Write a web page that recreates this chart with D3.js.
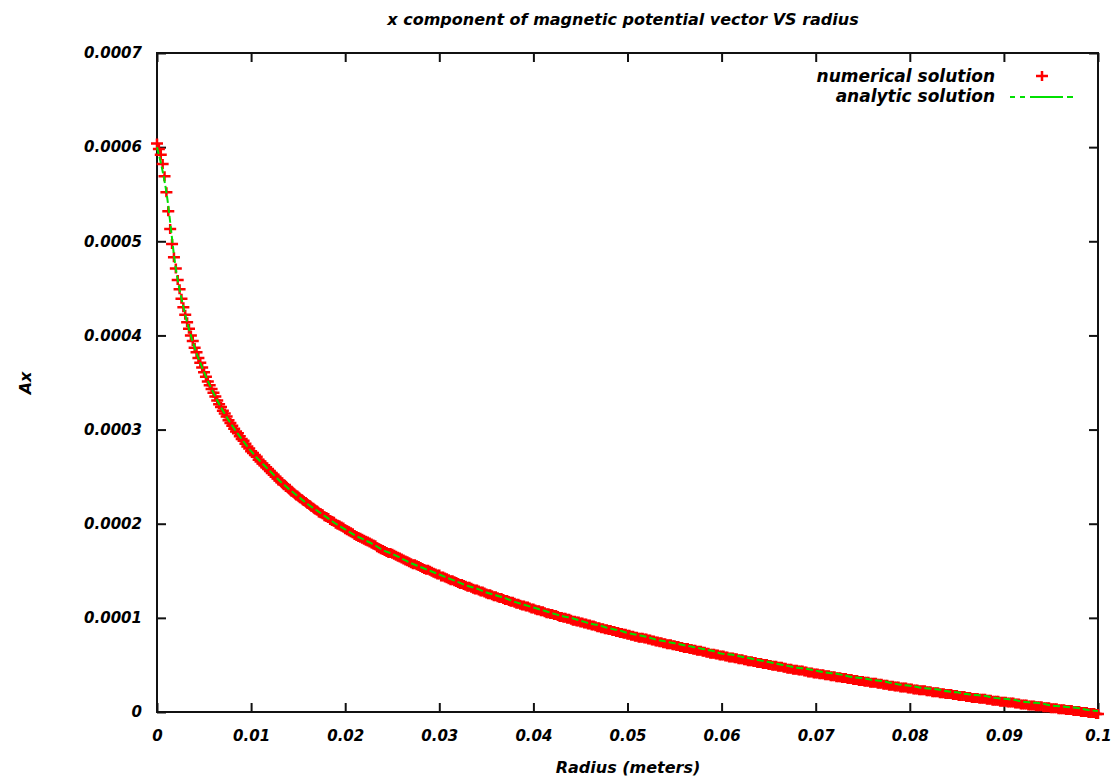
<!DOCTYPE html>
<html>
<head>
<meta charset="utf-8">
<script src="https://cdn.jsdelivr.net/npm/d3@7"></script>
<style>
body { margin: 0; background: #fff; }
text { font-family: "DejaVu Sans", sans-serif; font-style: italic; font-weight: bold; fill: #000; }
</style>
</head>
<body>
<div id="chart"></div>
<script>
var width = 1113,
	height = 779,
	margin = {top: 53, right: 15, bottom: 67, left: 157};

// radius grid of each series (meters)
var numericalStep = 0.0002;
var analyticStep = 0.001;

// x component of magnetic potential, in units of 1e-6
var numericalAx = [
	604,598,592,582,569,552,
	532,513,497,483,471,459,449,439,430,422,414,407,400,394,387,382,376,371,366,361,356,351,347,343,339,335,331,327,324,320,317,314,310,307,304,301,298,296,293,290,288,285,282,280,277,
	275,273,271,268,266,264,262,260,258,256,254,252,250,248,246,244,242,241,239,237,235,234,232,230,229,227,226,224,223,221,
	220,218,217,215,214,212,211,210,208,207,206,204,203,202,200,199,198,197,196,194,
	193,192,191,190,188,187,186,185,184,183,182,181,180,179,178,177,175,174,173,172,
	171,170,169,169,168,167,166,165,164,163,162,161,160,159,158,157,157,156,155,154,
	153,152,151,151,150,149,148,147,146,146,
	144,144,143,142,141,140,140,139,138,137,136,136,135,134,133,133,132,131,130,130,
	129,128,128,127,126,125,125,124,123,123,122,121,121,120,119,119,118,117,117,116,
	115,115,114,113,113,112,112,111,110,110,
	109,108,108,107,107,106,105,105,104,104,103,103,102,101,101,100,100,99,99,98,
	97,97,96,96,95,95,94,94,93,93,92,92,91,90,90,89,89,88,88,87,
	87,86,86,85,85,84,84,83,83,82,
	82,81,81,80,80,79,79,79,78,78,77,77,76,76,75,75,74,74,73,73,
	72,72,72,71,71,70,70,69,69,68,68,68,67,67,66,66,65,65,65,64,
	64,63,63,62,62,62,61,61,60,60,
	60,59,59,58,58,58,57,57,56,56,56,55,55,54,54,54,53,53,52,52,
	52,51,51,51,50,50,49,49,49,48,48,48,47,47,46,46,46,45,45,45,
	44,44,44,43,43,42,42,42,41,41,
	41,40,40,40,39,39,39,38,38,38,37,37,37,36,36,36,35,35,35,34,
	34,34,33,33,33,32,32,32,31,31,31,31,30,30,30,29,29,29,28,28,
	28,27,27,27,26,26,26,26,25,25,
	25,24,24,24,23,23,23,23,22,22,22,21,21,21,21,20,20,20,19,19,
	19,19,18,18,18,17,17,17,17,16,16,16,15,15,15,15,14,14,14,14,
	13,13,13,12,12,12,12,11,11,11,
	11,10,10,10,10,9,9,9,8,8,8,8,7,7,7,7,6,6,6,6,
	5,5,5,5,4,4,4,4,3,3,3,3,2,2,2,2,1,1,1,1,
	0,0,0,0,-1,-1,-1,-1,-2,-2
];

var analyticAx = [
	600,552,471,422,387,361,339,320,304,290,
	277,266,256,246,237,229,221,214,207,200,
	194,188,183,178,172,168,163,158,154,150,
	146,142,138,134,131,127,124,121,117,114,
	111,108,105,102,100,97,94,92,89,87,
	84,82,80,77,75,73,71,69,67,65,
	62,61,59,57,55,53,51,49,47,46,
	44,42,41,39,37,36,34,33,31,29,
	28,26,25,24,22,21,19,18,17,15,
	14,13,11,10,9,7,6,5,4,2,
	1
];

var xTicks = [0, 0.01, 0.02, 0.03, 0.04, 0.05, 0.06, 0.07, 0.08, 0.09, 0.1];
var xTickLabels = ["0", "0.01", "0.02", "0.03", "0.04", "0.05", "0.06", "0.07", "0.08", "0.09", "0.1"];
var yTicks = [0, 0.0001, 0.0002, 0.0003, 0.0004, 0.0005, 0.0006, 0.0007];
var yTickLabels = ["0", "0.0001", "0.0002", "0.0003", "0.0004", "0.0005", "0.0006", "0.0007"];

var seriesNames = ["numerical solution", "analytic solution"];

var svg, x, y;

function init(){
	svg = d3.select("#chart")
		.append("svg")
		.attr("width", width)
		.attr("height", height);

	x = d3.scaleLinear().domain([0, 0.1]).range([margin.left, width - margin.right]);
	y = d3.scaleLinear().domain([0, 0.0007]).range([height - margin.bottom, margin.top]);

	drawAxes();
	drawSeries();
	drawLegend();
}

function drawAxes(){
	var x0 = x.range()[0], x1 = x.range()[1];
	var y0 = y.range()[0], y1 = y.range()[1];

	// ticks point inward on all four sides
	svg.append("g")
		.attr("transform", "translate(0," + y0 + ")")
		.call(d3.axisBottom(x).tickValues(xTicks)
			.tickFormat(function(d, i){ return xTickLabels[i]; })
			.tickSize(-9).tickPadding(18))
		.call(styleAxis);
	svg.append("g")
		.attr("transform", "translate(0," + y1 + ")")
		.call(d3.axisTop(x).tickValues(xTicks).tickFormat("").tickSize(-9))
		.call(styleAxis);
	svg.append("g")
		.attr("transform", "translate(" + x0 + ",0)")
		.call(d3.axisLeft(y).tickValues(yTicks)
			.tickFormat(function(d, i){ return yTickLabels[i]; })
			.tickSize(-9).tickPadding(15))
		.call(styleAxis);
	svg.append("g")
		.attr("transform", "translate(" + x1 + ",0)")
		.call(d3.axisRight(y).tickValues(yTicks).tickFormat("").tickSize(-9))
		.call(styleAxis);

	svg.append("rect")
		.attr("x", x0).attr("y", y1)
		.attr("width", x1 - x0).attr("height", y0 - y1)
		.attr("fill", "none")
		.attr("stroke", "#111")
		.attr("stroke-width", 2);

	svg.append("text")
		.attr("x", 623).attr("y", 25)
		.attr("text-anchor", "middle")
		.style("font-size", "16px")
		.text("x component of magnetic potential vector VS radius");

	svg.append("text")
		.attr("x", 628).attr("y", 773)
		.attr("text-anchor", "middle")
		.style("font-size", "16px")
		.text("Radius (meters)");

	svg.append("text")
		.attr("transform", "translate(31,383) rotate(-90)")
		.attr("text-anchor", "middle")
		.style("font-size", "16px")
		.text("Ax");
}

function styleAxis(g){
	g.select(".domain").remove();
	g.selectAll(".tick line").attr("stroke", "#111").attr("stroke-width", 2);
	g.selectAll(".tick text")
		.style("font-family", "DejaVu Sans, sans-serif")
		.style("font-style", "italic")
		.style("font-weight", "bold")
		.style("font-size", "15px")
		.attr("fill", "#000");
}

function crossPath(cx, cy){
	return "M" + (cx - 6) + "," + cy + "H" + (cx + 6) +
		"M" + cx + "," + (cy - 5) + "V" + (cy + 5);
}

function drawSeries(){
	//numerical solution as crosses
	svg.append("g")
		.selectAll("path")
		.data(numericalAx)
		.enter()
		.append("path")
		.attr("d", function(d, i){ return crossPath(x(i * numericalStep), y(d * 1e-6)); })
		.attr("stroke", "#ff0000")
		.attr("stroke-width", 2.5)
		.attr("fill", "none");

	//analytic solution as dashed line on top
	var line = d3.line()
		.x(function(d, i){ return x(i * analyticStep); })
		.y(function(d){ return y(d * 1e-6); })
		.curve(d3.curveMonotoneX);

	svg.append("path")
		.datum(analyticAx)
		.attr("d", line)
		.attr("fill", "none")
		.attr("stroke", "#00e000")
		.attr("stroke-width", 2)
		.attr("stroke-dasharray", "7,3");
}

function drawLegend(){
	var leg = svg.append("g");
	leg.selectAll("text")
		.data(seriesNames)
		.enter()
		.append("text")
		.attr("x", 995)
		.attr("y", function(d, i){ return 82 + i * 20; })
		.attr("text-anchor", "end")
		.style("font-size", "17px")
		.text(function(d){ return d; });

	leg.append("path")
		.attr("d", crossPath(1042, 76))
		.attr("stroke", "#ff0000")
		.attr("stroke-width", 2.5);

	leg.append("line")
		.attr("x1", 1010).attr("x2", 1073)
		.attr("y1", 97).attr("y2", 97)
		.attr("stroke", "#00e000")
		.attr("stroke-width", 2)
		.attr("stroke-dasharray", "5,5,5,5,33,4,6");
}

init();
</script>
</body>
</html>
